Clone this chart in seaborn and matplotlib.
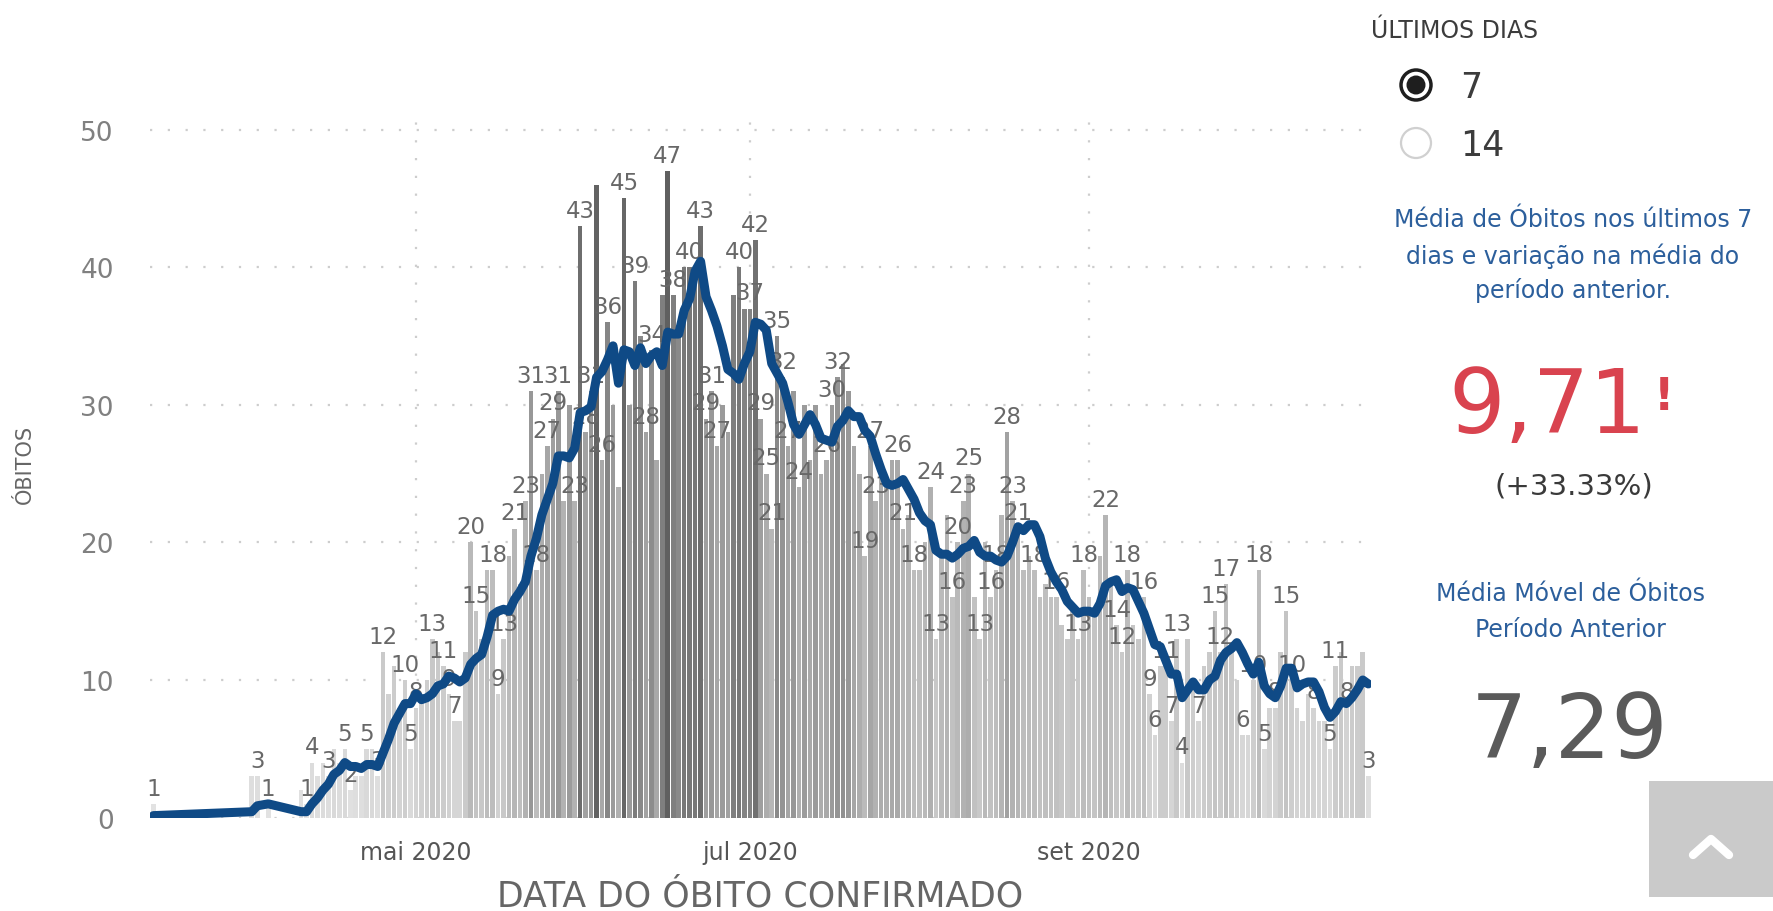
import matplotlib
matplotlib.use('Agg')
import matplotlib.pyplot as plt
import matplotlib.dates as mdates
from matplotlib.colors import LinearSegmentedColormap
from matplotlib.patches import Circle, Rectangle
import seaborn as sns
import pandas as pd

# dias isolados no início da série
datas_inicio = ['2020-03-14', '2020-04-01', '2020-04-02', '2020-04-04']
obitos_inicio = [1, 3, 3, 1]

# a partir de 10/abr todos os dias têm registro
inicio_diario = '2020-04-10'
obitos_abr = [2, 1, 4, 3, 4, 3, 5, 4, 5, 2, 3, 3, 5, 5, 3, 12, 9, 11, 8, 10, 5]
obitos_mai = [8, 9, 10, 13, 12, 11, 9, 7, 7, 12, 20, 15, 13, 18, 18, 9, 13, 19, 21, 17,
              23, 31, 18, 25, 27, 29, 31, 23, 30, 23, 43]
obitos_jun = [28, 31, 46, 26, 36, 30, 24, 45, 30, 39, 35, 28, 34, 26, 38, 47, 38, 35, 40, 40,
              40, 43, 29, 31, 27, 30, 28, 38, 40, 37]
obitos_jul = [37, 42, 29, 25, 21, 35, 32, 27, 31, 24, 30, 26, 30, 25, 26, 30, 32, 33, 31, 27,
              25, 19, 27, 23, 25, 24, 26, 26, 21, 22, 18]
obitos_ago = [18, 20, 24, 13, 19, 22, 16, 20, 23, 25, 16, 13, 20, 16, 18, 22, 28, 23, 21, 18,
              19, 18, 16, 17, 16, 16, 14, 13, 15, 13, 18]
obitos_set = [16, 15, 19, 22, 17, 14, 12, 18, 14, 13, 16, 9, 6, 11, 11, 7, 13, 4, 13, 10,
              7, 11, 12, 15, 12, 17, 12, 10, 6, 6]
obitos_out = [10, 18, 5, 8, 8, 12, 15, 10, 8, 7, 9, 8, 7, 7, 5, 11, 12, 8, 11, 11, 12, 3]

# barras que exibem rótulo de dados no painel
datas_rotulo = [
    '2020-03-14', '2020-04-02', '2020-04-04', '2020-04-11', '2020-04-12', '2020-04-15',
    '2020-04-18', '2020-04-19', '2020-04-22', '2020-04-24', '2020-04-25', '2020-04-29',
    '2020-04-30', '2020-05-01', '2020-05-04', '2020-05-06', '2020-05-07', '2020-05-08',
    '2020-05-11', '2020-05-12', '2020-05-15', '2020-05-16', '2020-05-17', '2020-05-19',
    '2020-05-21', '2020-05-22', '2020-05-23', '2020-05-25', '2020-05-26', '2020-05-27',
    '2020-05-30', '2020-05-31', '2020-06-01', '2020-06-02', '2020-06-04', '2020-06-05',
    '2020-06-08', '2020-06-10', '2020-06-12', '2020-06-13', '2020-06-16', '2020-06-17',
    '2020-06-20', '2020-06-22', '2020-06-23', '2020-06-24', '2020-06-25', '2020-06-29',
    '2020-07-01', '2020-07-02', '2020-07-03', '2020-07-04', '2020-07-05', '2020-07-06',
    '2020-07-07', '2020-07-08', '2020-07-10', '2020-07-15', '2020-07-16', '2020-07-17',
    '2020-07-22', '2020-07-23', '2020-07-24', '2020-07-28', '2020-07-29', '2020-07-31',
    '2020-08-03', '2020-08-04', '2020-08-07', '2020-08-08', '2020-08-09', '2020-08-10',
    '2020-08-12', '2020-08-14', '2020-08-15', '2020-08-17', '2020-08-18', '2020-08-19',
    '2020-08-22', '2020-08-26', '2020-08-30', '2020-08-31', '2020-09-04', '2020-09-06',
    '2020-09-07', '2020-09-08', '2020-09-11', '2020-09-12', '2020-09-13',
    '2020-09-15', '2020-09-16', '2020-09-17', '2020-09-18', '2020-09-21', '2020-09-24',
    '2020-09-25', '2020-09-26', '2020-09-29', '2020-10-01', '2020-10-02', '2020-10-03',
    '2020-10-05', '2020-10-07', '2020-10-08', '2020-10-12', '2020-10-15', '2020-10-16',
    '2020-10-18', '2020-10-22',
]

ticks_datas = ['2020-05-01', '2020-07-01', '2020-09-01']
ticks_nomes = ['mai 2020', 'jul 2020', 'set 2020']

# montar a série diária
diario = obitos_abr + obitos_mai + obitos_jun + obitos_jul + obitos_ago + obitos_set + obitos_out
datas = list(pd.to_datetime(datas_inicio)) + list(pd.date_range(inicio_diario, periods=len(diario), freq='D'))
serie = pd.Series(obitos_inicio + diario, index=pd.DatetimeIndex(datas))
media_movel = serie.rolling('7D').sum() / 7

df = pd.DataFrame({'data': serie.index, 'obitos': serie.values, 'media': media_movel.values})
df['x'] = mdates.date2num(df['data'])

sns.set_theme(style='white')
plt.rcParams['font.family'] = ['DejaVu Sans']

W, H = 1773, 912
fig = plt.figure(figsize=(W / 100, H / 100), dpi=100)
ax = fig.add_axes([150 / W, 1 - 818.6 / H, (1371 - 150) / W, (818.6 - 110) / H])

cinzas = LinearSegmentedColormap.from_list('cinzas', ['#e2e2e2', '#b0b0b0', '#606060'])
sns.barplot(data=df, x='x', y='obitos', hue='obitos', palette=cinzas, hue_norm=(1, 47),
            native_scale=True, dodge=False, legend=False, errorbar=None,
            width=0.84, linewidth=0, ax=ax, zorder=2)
sns.lineplot(data=df, x='x', y='media', color='#0f4a86', linewidth=6.5, ax=ax,
             zorder=5, solid_capstyle='round', solid_joinstyle='round')

rot = df[df['data'].isin(pd.to_datetime(datas_rotulo))]
for _, r in rot.iterrows():
    ax.annotate(str(int(r['obitos'])), (r['x'], r['obitos']), xytext=(0, 3),
                textcoords='offset points', ha='center', va='bottom',
                fontsize=16.5, color='#686868', zorder=3)

x0 = mdates.date2num(pd.Timestamp('2020-03-14'))
x1 = mdates.date2num(pd.Timestamp('2020-10-22'))
ax.set_xlim(x0 - 0.6, x1 + 0.5)
ax.set_ylim(0, 51.5)
ax.set_yticks([0, 10, 20, 30, 40, 50])
ax.set_xticks(mdates.date2num(pd.to_datetime(ticks_datas)))
ax.set_xticklabels(ticks_nomes)
ax.tick_params(axis='y', length=0, pad=26, labelsize=19, labelcolor='#808080')
ax.tick_params(axis='x', length=0, pad=16, labelsize=17, labelcolor='#555555')
for s in ax.spines.values():
    s.set_visible(False)
ax.grid(True, axis='both', color='#cdcdcd', linestyle=(0, (1, 7)), linewidth=1.6)
ax.set_axisbelow(True)
ax.set_xlabel('')
ax.set_ylabel('')

# camada em pixels para os textos e o painel lateral
ov = fig.add_axes([0, 0, 1, 1], zorder=10)
ov.set_xlim(0, W)
ov.set_ylim(H, 0)
ov.axis('off')
ov.patch.set_alpha(0)

ov.text(25, 464, 'ÓBITOS', rotation=90, ha='center', va='center', fontsize=15, color='#666666')
ov.text(760, 897, 'DATA DO ÓBITO CONFIRMADO', ha='center', va='center', fontsize=25, color='#666666')

ov.text(1371, 31, 'ÚLTIMOS DIAS', ha='left', va='center', fontsize=17, color='#3c3c3c')
ov.add_patch(Circle((1416, 86), 15, facecolor='white', edgecolor='#1e1e1e', linewidth=2.5))
ov.add_patch(Circle((1416, 86), 9.5, facecolor='#1e1e1e', edgecolor='none'))
ov.text(1460, 88, '7', ha='left', va='center', fontsize=25, color='#3c3c3c')
ov.add_patch(Circle((1416, 144), 15, facecolor='white', edgecolor='#d0d0d0', linewidth=1.6))
ov.text(1460, 146, '14', ha='left', va='center', fontsize=25, color='#3c3c3c')

azul = '#2c5f9c'
for y, linha in zip([220, 256, 291], ['Média de Óbitos nos últimos 7',
                                      'dias e variação na média do',
                                      'período anterior.']):
    ov.text(1573, y, linha, ha='center', va='center', fontsize=17, color=azul)

ov.text(1547, 409, '9,71', ha='center', va='center', fontsize=64, color='#d9434f')
ov.text(1664, 398, '!', ha='center', va='center', fontsize=32, color='#d9434f', fontweight='bold')
ov.text(1574, 487, '(+33.33%)', ha='center', va='center', fontsize=21, color='#3a3a3a')
ov.text(1570, 594, 'Média Móvel de Óbitos', ha='center', va='center', fontsize=17, color=azul)
ov.text(1570, 630, 'Período Anterior', ha='center', va='center', fontsize=17, color=azul)
ov.text(1570, 734, '7,29', ha='center', va='center', fontsize=64, color='#5a5a5a')

ov.add_patch(Rectangle((1649, 782), 124, 116, facecolor='#cacaca', edgecolor='none'))
ov.plot([1693, 1711, 1729], [856, 840, 856], color='white', linewidth=6, solid_capstyle='round')

fig.savefig('out.png', dpi=100, facecolor='white')
